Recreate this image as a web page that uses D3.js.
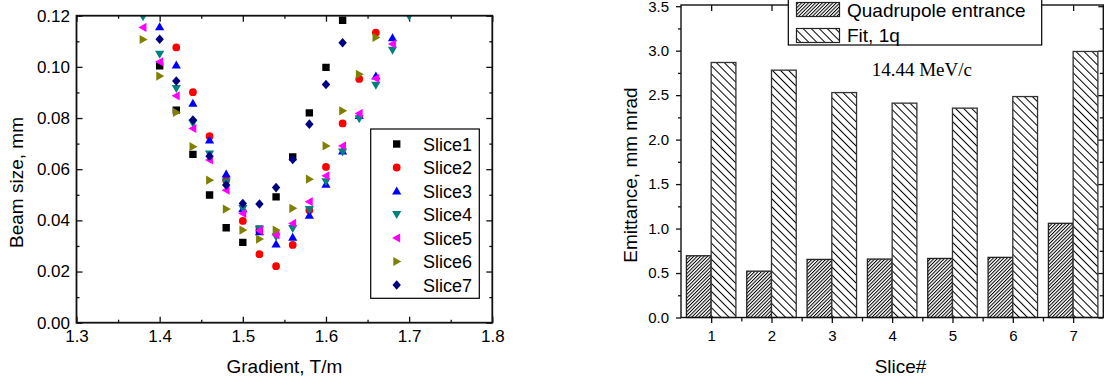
<!DOCTYPE html>
<html>
<head>
<meta charset="utf-8">
<script src="https://cdn.jsdelivr.net/npm/d3@7"></script>
<style>
  body { margin: 0; background: #fff; }
  svg { display: block; }
  text { font-family: "Liberation Sans", Arial, sans-serif; fill: #000; }
</style>
</head>
<body>
<script>
// Canvas setup
const canvasWidth = 1109;
const canvasHeight = 385;

const svg = d3.select('body')
    .append('svg')
    .attr('width', canvasWidth)
    .attr('height', canvasHeight);

// ---- data: left panel (beam size vs gradient) ----
const gradient = [1.38, 1.40, 1.42, 1.44, 1.46, 1.48, 1.50, 1.52, 1.54, 1.56, 1.58, 1.60, 1.62, 1.64, 1.66, 1.68, 1.70];
const slice1 = [null, 0.1004, 0.0831, 0.0658, 0.0499, 0.0371, 0.0314, 0.0365, 0.0492, 0.0648, 0.0820, 0.0998, 0.1182, null, null, null, null];
const slice2 = [null, null, 0.1076, 0.0901, 0.0729, 0.0557, 0.0398, 0.0268, 0.0221, 0.0304, 0.0440, 0.0609, 0.0779, 0.0953, 0.1134, null, null];
const slice3 = [null, 0.1156, 0.1007, 0.0857, 0.0714, 0.0581, 0.0445, 0.0355, 0.0307, 0.0334, 0.0420, 0.0541, 0.0671, 0.0810, 0.0964, 0.1113, null];
const slice4 = [0.1196, 0.1050, 0.0916, 0.0780, 0.0660, 0.0549, 0.0447, 0.0366, 0.0336, 0.0369, 0.0443, 0.0551, 0.0668, 0.0798, 0.0929, 0.1065, 0.1198];
const slice5 = [0.1154, 0.1020, 0.0887, 0.0759, 0.0636, 0.0518, 0.0427, 0.0360, 0.0343, 0.0388, 0.0473, 0.0574, 0.0691, 0.0818, 0.0955, 0.1089, null];
const slice6 = [0.1107, 0.0964, 0.0822, 0.0688, 0.0557, 0.0444, 0.0362, 0.0327, 0.0362, 0.0447, 0.0561, 0.0691, 0.0828, 0.0971, 0.1115, null, null];
const slice7 = [null, 0.1108, 0.0945, 0.0792, 0.0651, 0.0538, 0.0466, 0.0464, 0.0528, 0.0638, 0.0776, 0.0931, 0.1094, null, null, null, null];
const sliceNames = ['Slice1', 'Slice2', 'Slice3', 'Slice4', 'Slice5', 'Slice6', 'Slice7'];

const xTicksL = [1.3, 1.4, 1.5, 1.6, 1.7, 1.8];
const xMinorL = [1.35, 1.45, 1.55, 1.65, 1.75];
const yTicksL = [0, 0.02, 0.04, 0.06, 0.08, 0.10, 0.12];
const yMinorL = [0.01, 0.03, 0.05, 0.07, 0.09, 0.11];

// ---- data: right panel (emittance per slice) ----
const sliceNum = [1, 2, 3, 4, 5, 6, 7];
const quadEntrance = [0.694, 0.521, 0.653, 0.657, 0.664, 0.676, 1.059];
const fit1q = [2.867, 2.781, 2.529, 2.410, 2.354, 2.484, 2.991];
const yTicksR = [0, 0.5, 1.0, 1.5, 2.0, 2.5, 3.0, 3.5];
const yMinorR = [0.25, 0.75, 1.25, 1.75, 2.25, 2.75, 3.25];
const xMinorR = [1.5, 2.5, 3.5, 4.5, 5.5, 6.5];

// series styles
const colors = ['#000000', '#ff0000', '#0000ff', '#008080', '#ff00ff', '#808000', '#000080'];
const shapes = ['square', 'circle', 'up', 'down', 'left', 'right', 'diamond'];

function markerPath(shape) {
    switch (shape) {
        case 'square': return 'M-3.7,-3.7h7.4v7.4h-7.4z';
        case 'circle': return 'M-3.9,0a3.9,3.9 0 1,0 7.8,0a3.9,3.9 0 1,0 -7.8,0z';
        case 'up': return 'M0,-4.6L4.6,3.4L-4.6,3.4z';
        case 'down': return 'M0,4.6L4.6,-3.4L-4.6,-3.4z';
        case 'left': return 'M-4.6,0L3.4,-4.6L3.4,4.6z';
        case 'right': return 'M4.6,0L-3.4,-4.6L-3.4,4.6z';
        case 'diamond': return 'M0,-4.8L4.2,0L0,4.8L-4.2,0z';
    }
}

function styleAxis(g, fontSize) {
    g.select('.domain').remove();
    g.selectAll('.tick line').attr('stroke', '#111').attr('stroke-width', 1.3);
    g.selectAll('.tick text')
        .style('font-family', '"Liberation Sans", Arial, sans-serif')
        .style('font-size', fontSize + 'px')
        .attr('fill', '#000');
}

// ================= LEFT PANEL =================
const L = { left: 76.5, right: 492.3, top: 15.7, bottom: 322.7 };
const xL = d3.scaleLinear().domain([1.3, 1.8]).range([L.left, L.right]);
const yL = d3.scaleLinear().domain([0, 0.12]).range([L.bottom, L.top]);

const left = svg.append('g').classed('left', true);

svg.append('defs').append('clipPath').attr('id', 'clipL')
    .append('rect')
    .attr('x', L.left).attr('y', L.top)
    .attr('width', L.right - L.left).attr('height', L.bottom - L.top);

// ticks (all inward)
left.append('g').attr('transform', `translate(0,${L.bottom})`)
    .call(d3.axisBottom(xL).tickValues(xTicksL).tickSizeInner(-6).tickSizeOuter(0)
        .tickPadding(7.5).tickFormat(d3.format('.1f')))
    .call(g => styleAxis(g, 17));
left.append('g').attr('transform', `translate(0,${L.bottom})`)
    .call(d3.axisBottom(xL).tickValues(xMinorL).tickSizeInner(-3).tickSizeOuter(0).tickFormat(''))
    .call(g => styleAxis(g, 17));
left.append('g').attr('transform', `translate(0,${L.top})`)
    .call(d3.axisTop(xL).tickValues(xTicksL).tickSizeInner(-6).tickSizeOuter(0).tickFormat(''))
    .call(g => styleAxis(g, 17));
left.append('g').attr('transform', `translate(0,${L.top})`)
    .call(d3.axisTop(xL).tickValues(xMinorL).tickSizeInner(-3).tickSizeOuter(0).tickFormat(''))
    .call(g => styleAxis(g, 17));
left.append('g').attr('transform', `translate(${L.left},0)`)
    .call(d3.axisLeft(yL).tickValues(yTicksL).tickSizeInner(-6).tickSizeOuter(0)
        .tickPadding(6.5).tickFormat(d3.format('.2f')))
    .call(g => styleAxis(g, 17));
left.append('g').attr('transform', `translate(${L.left},0)`)
    .call(d3.axisLeft(yL).tickValues(yMinorL).tickSizeInner(-3).tickSizeOuter(0).tickFormat(''))
    .call(g => styleAxis(g, 17));
left.append('g').attr('transform', `translate(${L.right},0)`)
    .call(d3.axisRight(yL).tickValues(yTicksL).tickSizeInner(-6).tickSizeOuter(0).tickFormat(''))
    .call(g => styleAxis(g, 17));
left.append('g').attr('transform', `translate(${L.right},0)`)
    .call(d3.axisRight(yL).tickValues(yMinorL).tickSizeInner(-3).tickSizeOuter(0).tickFormat(''))
    .call(g => styleAxis(g, 17));

// points
const slices = [slice1, slice2, slice3, slice4, slice5, slice6, slice7];
const pts = left.append('g').attr('clip-path', 'url(#clipL)');
slices.forEach((vals, i) => {
    const data = gradient.map((g, j) => ({ x: g, y: vals[j] })).filter(d => d.y != null);
    pts.append('g').selectAll('path')
        .data(data).enter().append('path')
        .attr('transform', d => `translate(${xL(d.x)},${yL(d.y)})`)
        .attr('d', markerPath(shapes[i]))
        .attr('fill', colors[i]);
});

// frame
left.append('rect')
    .attr('x', L.left).attr('y', L.top)
    .attr('width', L.right - L.left).attr('height', L.bottom - L.top)
    .attr('fill', 'none').attr('stroke', '#111').attr('stroke-width', 1.8);

// legend
const legL = left.append('g');
legL.append('rect')
    .attr('x', 370.7).attr('y', 129)
    .attr('width', 108.6).attr('height', 169.3)
    .attr('fill', '#fff').attr('stroke', '#000').attr('stroke-width', 1.2);
sliceNames.forEach((name, i) => {
    const cy = 144 + i * 23.5;
    legL.append('path')
        .attr('transform', `translate(396.7,${cy})`)
        .attr('d', markerPath(shapes[i]))
        .attr('fill', colors[i]);
    legL.append('text')
        .attr('x', 423).attr('y', cy + 6.6)
        .style('font-size', '18px')
        .text(name);
});

// axis titles
left.append('text')
    .attr('x', (L.left + L.right) / 2).attr('y', 372.5)
    .attr('text-anchor', 'middle')
    .style('font-size', '19px')
    .text('Gradient, T/m');
left.append('text')
    .attr('transform', 'translate(23.3,182.5) rotate(-90)')
    .attr('text-anchor', 'middle')
    .style('font-size', '19px')
    .text('Beam size, mm');

// ================= RIGHT PANEL =================
const R = { left: 681, right: 1103.3, top: 5, bottom: 317.5 };
const xR = d3.scaleLinear().domain([0.5, 7.5]).range([R.left, R.right]);
const yR = d3.scaleLinear().domain([0, 3.5]).range([R.bottom, 6.2]);
const barW = 0.41;

const defs = svg.append('defs');
defs.append('pattern')
    .attr('id', 'hatchDense')
    .attr('patternUnits', 'userSpaceOnUse')
    .attr('width', 2.45).attr('height', 2.45)
    .attr('patternTransform', 'rotate(45)')
    .call(p => {
        p.append('rect').attr('width', 2.45).attr('height', 2.45).attr('fill', '#fff');
        p.append('line').attr('x1', 0.5).attr('y1', 0).attr('x2', 0.5).attr('y2', 2.45)
            .attr('stroke', '#000').attr('stroke-width', 1);
    });
defs.append('pattern')
    .attr('id', 'hatchWide')
    .attr('patternUnits', 'userSpaceOnUse')
    .attr('width', 5.7).attr('height', 5.7)
    .attr('patternTransform', 'rotate(-45)')
    .call(p => {
        p.append('rect').attr('width', 5.7).attr('height', 5.7).attr('fill', '#fff');
        p.append('line').attr('x1', 0.5).attr('y1', 0).attr('x2', 0.5).attr('y2', 5.7)
            .attr('stroke', '#000').attr('stroke-width', 1);
    });

const right = svg.append('g').classed('right', true);

// bars
right.append('g').selectAll('rect')
    .data(sliceNum.map((s, i) => ({ s: s, v: quadEntrance[i] })))
    .enter().append('rect')
    .attr('x', d => xR(d.s - barW))
    .attr('y', d => yR(d.v))
    .attr('width', d => xR(d.s) - xR(d.s - barW))
    .attr('height', d => yR(0) - yR(d.v))
    .attr('fill', 'url(#hatchDense)')
    .attr('stroke', '#222').attr('stroke-width', 1.3);
right.append('g').selectAll('rect')
    .data(sliceNum.map((s, i) => ({ s: s, v: fit1q[i] })))
    .enter().append('rect')
    .attr('x', d => xR(d.s))
    .attr('y', d => yR(d.v))
    .attr('width', d => xR(d.s + barW) - xR(d.s))
    .attr('height', d => yR(0) - yR(d.v))
    .attr('fill', 'url(#hatchWide)')
    .attr('stroke', '#333').attr('stroke-width', 1.3);

// ticks
right.append('g').attr('transform', `translate(0,${R.bottom})`)
    .call(d3.axisBottom(xR).tickValues(sliceNum).tickSizeInner(5.5).tickSizeOuter(0)
        .tickPadding(7).tickFormat(d3.format('d')))
    .call(g => styleAxis(g, 15));
right.append('g').attr('transform', `translate(0,${R.bottom})`)
    .call(d3.axisBottom(xR).tickValues(xMinorR).tickSizeInner(4).tickSizeOuter(0).tickFormat(''))
    .call(g => styleAxis(g, 15));
right.append('g').attr('transform', `translate(0,${R.top})`)
    .call(d3.axisTop(xR).tickValues(sliceNum).tickSizeInner(-6).tickSizeOuter(0).tickFormat(''))
    .call(g => styleAxis(g, 15));
right.append('g').attr('transform', `translate(${R.left},0)`)
    .call(d3.axisLeft(yR).tickValues(yTicksR).tickSizeInner(5).tickSizeOuter(0)
        .tickPadding(7).tickFormat(d3.format('.1f')))
    .call(g => styleAxis(g, 15));
right.append('g').attr('transform', `translate(${R.left},0)`)
    .call(d3.axisLeft(yR).tickValues(yMinorR).tickSizeInner(3).tickSizeOuter(0).tickFormat(''))
    .call(g => styleAxis(g, 15));
right.append('g').attr('transform', `translate(${R.right},0)`)
    .call(d3.axisRight(yR).tickValues(yTicksR).tickSizeInner(-5).tickSizeOuter(0).tickFormat(''))
    .call(g => styleAxis(g, 15));
right.append('g').attr('transform', `translate(${R.right},0)`)
    .call(d3.axisRight(yR).tickValues(yMinorR).tickSizeInner(-3.5).tickSizeOuter(0).tickFormat(''))
    .call(g => styleAxis(g, 15));

// frame
right.append('rect')
    .attr('x', R.left).attr('y', R.top)
    .attr('width', R.right - R.left).attr('height', R.bottom - R.top)
    .attr('fill', 'none').attr('stroke', '#111').attr('stroke-width', 1.4);

// legend
const legR = right.append('g');
legR.append('rect')
    .attr('x', 788.3).attr('y', -2)
    .attr('width', 253.4).attr('height', 47)
    .attr('fill', '#fff').attr('stroke', '#000').attr('stroke-width', 1.2);
legR.append('rect')
    .attr('x', 796.5).attr('y', 2.5).attr('width', 43).attr('height', 14)
    .attr('fill', 'url(#hatchDense)').attr('stroke', '#222').attr('stroke-width', 1.2);
legR.append('rect')
    .attr('x', 796.5).attr('y', 28.5).attr('width', 43).attr('height', 14)
    .attr('fill', 'url(#hatchWide)').attr('stroke', '#222').attr('stroke-width', 1.2);
legR.append('text')
    .attr('x', 847).attr('y', 17.3)
    .style('font-size', '19px')
    .text('Quadrupole entrance');
legR.append('text')
    .attr('x', 847).attr('y', 42)
    .style('font-size', '19px')
    .text('Fit, 1q');

// annotation
right.append('text')
    .attr('x', 871.7).attr('y', 76)
    .style('font-family', '"Liberation Serif", "Times New Roman", serif')
    .style('font-size', '19px')
    .text('14.44 MeV/c');

// axis titles
right.append('text')
    .attr('x', 900.5).attr('y', 373.3)
    .attr('text-anchor', 'middle')
    .style('font-size', '19px')
    .text('Slice#');
right.append('text')
    .attr('transform', 'translate(636.7,175) rotate(-90)')
    .attr('text-anchor', 'middle')
    .style('font-size', '19px')
    .text('Emittance, mm mrad');
</script>
</body>
</html>
